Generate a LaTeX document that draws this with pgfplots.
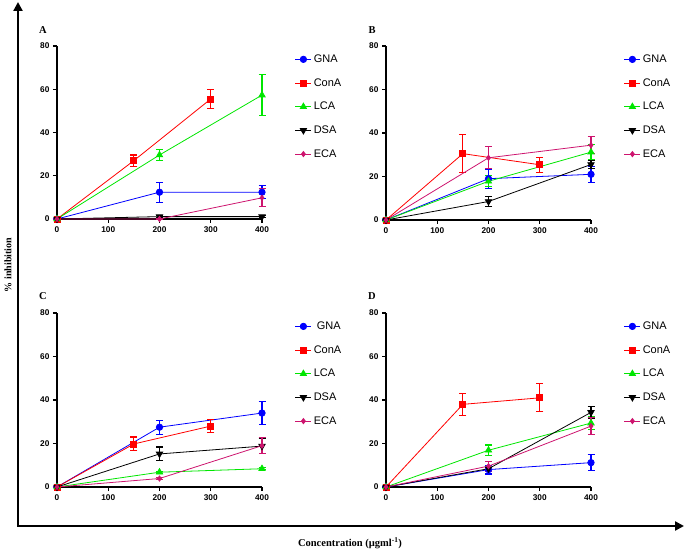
\documentclass[border=0pt]{standalone}
\usepackage{pgfplots}
\pgfplotsset{compat=1.18}
\usepackage{fontspec}
\setmainfont{Liberation Sans}
\newfontfamily\serifb{Liberation Serif}
\usetikzlibrary{arrows.meta}

\definecolor{cgna}{RGB}{0,0,255}
\definecolor{ccona}{RGB}{255,0,0}
\definecolor{clca}{RGB}{0,230,0}
\definecolor{cdsa}{RGB}{0,0,0}
\definecolor{ceca}{RGB}{205,20,110}

\pgfplotsset{
  panel/.style={
    scale only axis, width=205pt, height=174pt,
    anchor=south west,
    xmin=0, xmax=400, ymin=0, ymax=80,
    xtick={0,100,...,400}, ytick={0,20,...,80},
    axis x line*=bottom, axis y line*=left,
    axis line style={line width=1.4pt, -},
    tick align=outside, tick style={line width=1.2pt, black},
    major tick length=4pt,
    /pgf/number format/assume math mode=true,
    ticklabel style={font=\fontsize{8.3}{8.3}\selectfont\bfseries},
    clip=false,
    legend cell align=left,
    legend image code/.code={\draw[mark repeat=2,mark phase=2] plot coordinates {(0pt,0pt) (8pt,0pt) (16pt,0pt)};},
    legend style={draw=none, fill=none, anchor=north west, at={(1.16,0.962)},
      font=\fontsize{11}{11}\selectfont, row sep=10.5pt, inner sep=0pt},
    every axis plot/.append style={line width=0.8pt,
      error bars/y dir=both, error bars/y explicit,
      error bars/error mark options={rotate=90, mark size=3.5pt, line width=1.1pt},
      error bars/error bar style={line width=1.1pt}},
  },
  gna/.style={color=cgna, mark=*, mark size=3.2pt},
  cona/.style={color=ccona, mark=square*, mark size=3pt},
  lca/.style={color=clca, mark=triangle*, mark size=3.6pt},
  dsa/.style={color=cdsa, mark=triangle*, mark size=3.6pt, mark options={rotate=180}},
  eca/.style={color=ceca, mark=diamond*, mark size=2.6pt},
}

\begin{document}
\begin{tikzpicture}[x=1pt,y=1pt]
\useasboundingbox (0,0) rectangle (685,549);

% panel A
\begin{axis}[panel, at={(57pt,330pt)}, height=173pt]
\addplot[gna] coordinates {(0,0) +- (0,0) (200,12.4) +- (0,4.6) (400,12.4) +- (0,2.9)};
\addplot[cona] coordinates {(0,0) +- (0,0) (150,27) +- (0,2.6) (300,55.5) +- (0,4.5)};
\addplot[lca] coordinates {(0,0) +- (0,0) (200,29.6) +- (0,2.7) (400,57.3) +- (0,9.4)};
\addplot[dsa] coordinates {(0,0) +- (0,0) (200,1.1) +- (0,0.5) (400,1.1) +- (0,0.5)};
\addplot[eca] coordinates {(0,0) +- (0,0) (200,0) +- (0,0.3) (400,9.8) +- (0,4.1)};
\legend{GNA,ConA,LCA,DSA,ECA}
\end{axis}

% panel B
\begin{axis}[panel, at={(386pt,329pt)}]
\addplot[gna] coordinates {(0,0) +- (0,0) (200,19) +- (0,4.4) (400,21) +- (0,3.6)};
\addplot[cona] coordinates {(0,0) +- (0,0) (150,30.5) +- (0,8.7) (300,25.4) +- (0,3.5)};
\addplot[lca] coordinates {(0,0) +- (0,0) (200,17.8) +- (0,2.5) (400,31.2) +- (0,3.5)};
\addplot[dsa] coordinates {(0,0) +- (0,0) (200,8.5) +- (0,2.1) (400,25.5) +- (0,2)};
\addplot[eca] coordinates {(0,0) +- (0,0) (200,28.6) +- (0,5.1) (400,34.4) +- (0,3.8)};
\legend{GNA,ConA,LCA,DSA,ECA}
\end{axis}

% panel C
\begin{axis}[panel, at={(57pt,62pt)}]
\addplot[gna] coordinates {(0,0) +- (0,0) (200,27.5) +- (0,3.2) (400,34) +- (0,5.2)};
\addplot[cona] coordinates {(0,0) +- (0,0) (150,19.8) +- (0,3.2) (300,28) +- (0,3.1)};
\addplot[lca] coordinates {(0,0) +- (0,0) (200,6.8) +- (0,0.4) (400,8.4) +- (0,0.4)};
\addplot[dsa] coordinates {(0,0) +- (0,0) (200,15.2) +- (0,3.2) (400,18.8) +- (0,3.3)};
\addplot[eca] coordinates {(0,0) +- (0,0) (200,3.9) +- (0,0.4) (400,19) +- (0,3.7)};
\legend{\ GNA,ConA,LCA,DSA,ECA}
\end{axis}

% panel D
\begin{axis}[panel, at={(386pt,62pt)}]
\addplot[gna] coordinates {(0,0) +- (0,0) (200,8) +- (0,2) (400,11.2) +- (0,3.6)};
\addplot[cona] coordinates {(0,0) +- (0,0) (150,38) +- (0,5) (300,41) +- (0,6.4)};
\addplot[lca] coordinates {(0,0) +- (0,0) (200,16.9) +- (0,2.4) (400,29.4) +- (0,3)};
\addplot[dsa] coordinates {(0,0) +- (0,0) (200,8.4) +- (0,0.5) (400,34.3) +- (0,2.6)};
\addplot[eca] coordinates {(0,0) +- (0,0) (200,9.6) +- (0,2.3) (400,28) +- (0,4)};
\legend{GNA,ConA,LCA,DSA,ECA}
\end{axis}

% panel letters
\node[font=\serifb\bfseries\fontsize{10.5}{10.5}\selectfont] at (43,519) {A};
\node[font=\serifb\bfseries\fontsize{10.5}{10.5}\selectfont] at (372,519) {B};
\node[font=\serifb\bfseries\fontsize{10.5}{10.5}\selectfont] at (43,253) {C};
\node[font=\serifb\bfseries\fontsize{10.5}{10.5}\selectfont] at (372,253) {D};

% outer axes
\draw[line width=2.2pt, -{Triangle[length=9pt, width=9pt]}] (18,23) -- (18,547);
\draw[line width=2.2pt, -{Triangle[length=9pt, width=9pt]}] (17,23) -- (684,23);
\node[rotate=90, font=\serifb\bfseries\fontsize{10}{10}\selectfont] at (8,284) {\% inhibition};
\node[font=\serifb\bfseries\fontsize{10.5}{10.5}\selectfont] at (350,6) {Concentration (µgml\textsuperscript{-1})};
\end{tikzpicture}
\end{document}
